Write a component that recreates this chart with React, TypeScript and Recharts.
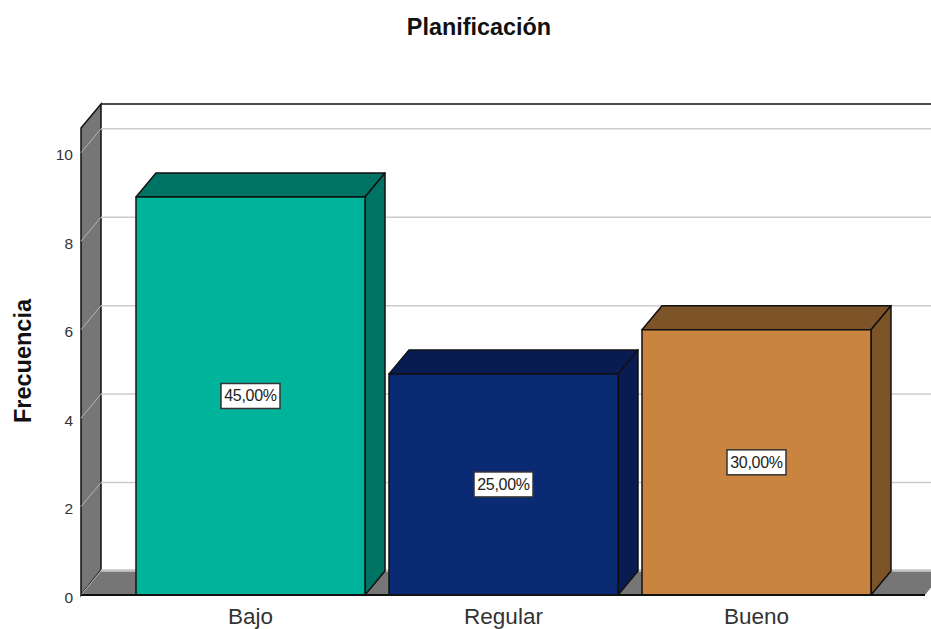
import React from "react";
import {
  BarChart,
  Bar,
  XAxis,
  YAxis,
  CartesianGrid,
  LabelList,
  usePlotArea,
} from "recharts";

// Chart content
const chartTitle = "Planificación";
const valueAxisTitle = "Frecuencia";
const categories = ["Bajo", "Regular", "Bueno"];
const frequencies = [9, 5, 6];
const percentLabels = ["45,00%", "25,00%", "30,00%"];
const valueTicks = [0, 2, 4, 6, 8, 10];

// Per-bar colours: front face, top face, side face
const frontColors = ["#00B39B", "#0A2A73", "#C98540"];
const topColors = ["#007464", "#091C52", "#7D5328"];
const sideColors = ["#007464", "#091C52", "#7D5328"];

// Extrusion of the pseudo-3D box
const DEPTH_X = 20;
const DEPTH_Y = 24;
const EDGE = "#111111";
const WALL = "#767676";
const FONT = "'Liberation Sans', Arial, sans-serif";

const rows = categories.map((category, i) => ({
  category,
  frequency: frequencies[i],
  percent: percentLabels[i],
}));

const pts = (...p: number[][]) => p.map((q) => q.join(",")).join(" ");

// Left wall, floor and back-wall outline behind the bars
function Walls() {
  const plot = usePlotArea();
  if (!plot) return null;
  const { x, y, width, height } = plot;
  const r = x + width;
  const b = y + height;
  return (
    <g>
      <polygon
        points={pts([x, y], [x + DEPTH_X, y - DEPTH_Y], [x + DEPTH_X, b - DEPTH_Y - 1], [x, b])}
        fill={WALL}
        stroke={EDGE}
        strokeWidth={1.5}
      />
      <polygon
        points={pts([x, b], [x + DEPTH_X, b - DEPTH_Y - 1], [r + DEPTH_X, b - DEPTH_Y - 1], [r, b])}
        fill={WALL}
      />
      <line x1={x + DEPTH_X} y1={y - DEPTH_Y} x2={r + DEPTH_X} y2={y - DEPTH_Y} stroke={EDGE} strokeWidth={1.5} />
      <line x1={x + DEPTH_X} y1={b - DEPTH_Y - 1} x2={r + DEPTH_X} y2={b - DEPTH_Y - 1} stroke="#c4c4c4" strokeWidth={1.5} />
    </g>
  );
}

// A gridline runs along the back wall and slants down the left wall.
// The plot's top edge is not a tick, so it gets no line.
function GridLine(props: any) {
  const { x1, x2, y1, y } = props;
  if (y1 <= y + 0.5) return <g />;
  return (
    <g>
      <line x1={x1} y1={y1} x2={x1 + DEPTH_X} y2={y1 - DEPTH_Y} stroke="#b5b5b5" strokeWidth={1} />
      <line x1={x1 + DEPTH_X} y1={y1 - DEPTH_Y} x2={x2 + DEPTH_X} y2={y1 - DEPTH_Y} stroke="#cccccc" strokeWidth={1.5} />
    </g>
  );
}

function Box3D(props: any) {
  const { x, y, width, height, index } = props;
  const r = x + width;
  const b = y + height;
  return (
    <g stroke={EDGE} strokeWidth={1.5} strokeLinejoin="round">
      <polygon
        points={pts([x, y], [x + DEPTH_X, y - DEPTH_Y], [r + DEPTH_X, y - DEPTH_Y], [r, y])}
        fill={topColors[index]}
      />
      <polygon
        points={pts([r, y], [r + DEPTH_X, y - DEPTH_Y], [r + DEPTH_X, b - DEPTH_Y], [r, b])}
        fill={sideColors[index]}
      />
      <rect x={x} y={y} width={width} height={height} fill={frontColors[index]} />
    </g>
  );
}

function PercentTag(props: any) {
  const { x, y, width, height, value } = props;
  const cx = x + width / 2;
  const cy = y + height / 2;
  return (
    <g>
      <rect x={cx - 29.5} y={cy - 12.5} width={59} height={25} fill="#ffffff" stroke="#333333" strokeWidth={1.5} />
      <text x={cx} y={cy + 5.5} textAnchor="middle" fontSize={16} letterSpacing={-0.3} fontFamily={FONT} fill="#222222">
        {value}
      </text>
    </g>
  );
}

export default function App() {
  return (
    <div style={{ position: "absolute", left: 0, top: 0, width: 931, height: 629, overflow: "hidden", background: "#fff" }}>
      <BarChart
        width={931}
        height={629}
        data={rows}
        margin={{ top: 128, right: 6, bottom: 0, left: 41 }}
        barSize={229}
      >
        <Walls />
        <CartesianGrid
          zIndex={1}
          vertical={false}
          horizontal={(p: any) => <GridLine key={p.key} {...p} />}
        />
        <text x={479} y={35} textAnchor="middle" fontSize={23.4} fontWeight="bold" fontFamily={FONT} fill="#111111">
          {chartTitle}
        </text>
        <text
          x={31}
          y={361}
          textAnchor="middle"
          transform="rotate(-90 31 361)"
          fontSize={23.5}
          fontWeight="bold"
          fontFamily={FONT}
          fill="#111111"
        >
          {valueAxisTitle}
        </text>
        <XAxis
          dataKey="category"
          height={34}
          padding={{ left: 43, right: 42 }}
          tickLine={false}
          axisLine={{ stroke: EDGE, strokeWidth: 2 }}
          tick={{ fontSize: 22.5, fill: "#333333", fontFamily: FONT, dy: 5 }}
          interval={0}
        />
        <YAxis
          width={40}
          domain={[0, 10.56]}
          ticks={valueTicks}
          interval={0}
          tickLine={false}
          axisLine={false}
          tickMargin={2}
          tick={{ fontSize: 15.5, fill: "#333333", fontFamily: FONT, dy: 2 }}
        />
        <Bar dataKey="frequency" isAnimationActive={false} shape={Box3D}>
          <LabelList dataKey="percent" content={PercentTag} />
        </Bar>
      </BarChart>
    </div>
  );
}
